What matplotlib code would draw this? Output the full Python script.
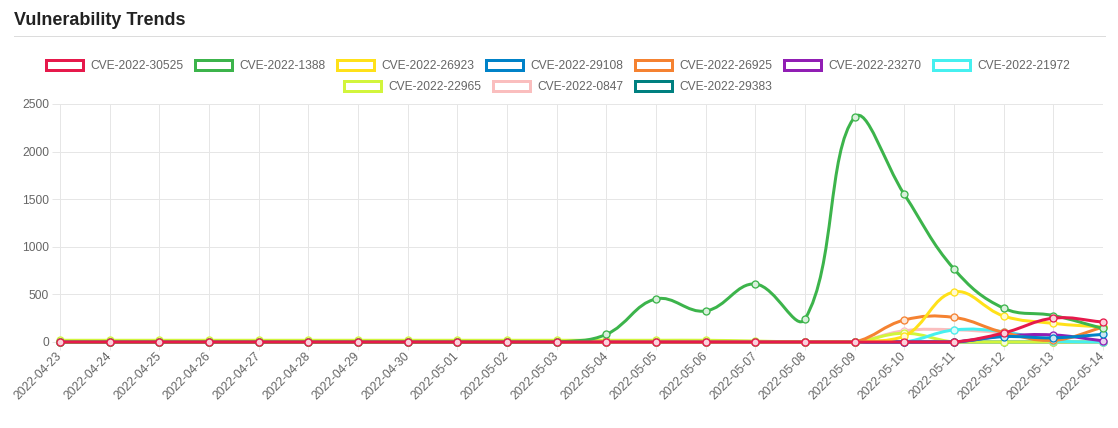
import numpy as np
import matplotlib
matplotlib.use("Agg")
import matplotlib.pyplot as plt
from matplotlib.path import Path
from matplotlib.patches import PathPatch, Rectangle
from matplotlib.lines import Line2D

# ---------------- data ----------------
dates = ['2022-04-23', '2022-04-24', '2022-04-25', '2022-04-26', '2022-04-27',
         '2022-04-28', '2022-04-29', '2022-04-30', '2022-05-01', '2022-05-02',
         '2022-05-03', '2022-05-04', '2022-05-05', '2022-05-06', '2022-05-07',
         '2022-05-08', '2022-05-09', '2022-05-10', '2022-05-11', '2022-05-12',
         '2022-05-13', '2022-05-14']

cve_2022_30525 = [0, 0, 0, 0, 0, 0, 0, 0, 0, 0, 0, 0, 0, 0, 0, 0, 0, 0, 0, 95, 250, 210]
cve_2022_1388 = [0, 0, 0, 0, 0, 0, 0, 0, 0, 0, 0, 80, 452, 326, 609, 242, 2363, 1550, 767, 355, 278, 142]
cve_2022_26923 = [0, 0, 0, 0, 0, 0, 0, 0, 0, 0, 0, 0, 0, 0, 0, 0, 0, 60, 525, 273, 196, 156]
cve_2022_29108 = [0, 0, 0, 0, 0, 0, 0, 0, 0, 0, 0, 0, 0, 0, 0, 0, 0, 0, 0, 56, 44, 80]
cve_2022_26925 = [0, 0, 0, 0, 0, 0, 0, 0, 0, 0, 0, 0, 0, 0, 0, 0, 0, 231, 258, 100, 18, 155]
cve_2022_23270 = [0, 0, 0, 0, 0, 0, 0, 0, 0, 0, 0, 0, 0, 0, 0, 0, 0, 0, 0, 62, 74, 12]
cve_2022_21972 = [0, 0, 0, 0, 0, 0, 0, 0, 0, 0, 0, 0, 0, 0, 0, 0, 0, 0, 126, 108, 8, 0]
cve_2022_22965 = [18, 18, 18, 18, 18, 18, 18, 18, 18, 18, 18, 18, 18, 18, 10, 0, 0, 92, 0, 0, 0, 0]
cve_2022_0847 = [0, 0, 0, 0, 0, 0, 0, 0, 0, 0, 0, 0, 0, 0, 0, 0, 0, 118, 128, 92, 5, 0]
cve_2022_29383 = [0, 0, 0, 0, 0, 0, 0, 0, 0, 0, 0, 0, 0, 0, 0, 0, 0, 0, 0, 0, 0, 0]

series_names = ['CVE-2022-30525', 'CVE-2022-1388', 'CVE-2022-26923', 'CVE-2022-29108',
                'CVE-2022-26925', 'CVE-2022-23270', 'CVE-2022-21972', 'CVE-2022-22965',
                'CVE-2022-0847', 'CVE-2022-29383']
series_values = [cve_2022_30525, cve_2022_1388, cve_2022_26923, cve_2022_29108,
                 cve_2022_26925, cve_2022_23270, cve_2022_21972, cve_2022_22965,
                 cve_2022_0847, cve_2022_29383]
series_colors = ['#e6194b', '#3cb44b', '#ffe119', '#0082c8', '#f58231',
                 '#911eb4', '#46f0f0', '#d2f53c', '#fabebe', '#008080']

y_ticks = [0, 500, 1000, 1500, 2000, 2500]
title_text = 'Vulnerability Trends'

# ---------------- layout ----------------
W, H = 1118, 428
FONT = 'Liberation Sans'
PX = 72.0 / 100.0  # points per pixel
GRID = '#e6e6e6'
TXT = '#666666'

fig = plt.figure(figsize=(W / 100, H / 100), dpi=100)
fig.patch.set_facecolor('white')

# overlay (pixel coordinates, y down)
ov = fig.add_axes([0, 0, 1, 1])
ov.set_xlim(0, W)
ov.set_ylim(H, 0)
ov.axis('off')
ov.patch.set_visible(False)

L, R, T, B = 60, 1103, 104, 342
ax = fig.add_axes([L / W, 1 - B / H, (R - L) / W, (B - T) / H])
ax.patch.set_visible(False)

n = len(dates)
xs = np.arange(n)
xmax = n - 1
ymax = y_ticks[-1]
ax.set_xlim(0, xmax)
ax.set_ylim(0, ymax)

for s in ax.spines.values():
    s.set_visible(False)
ax.set_xticks(xs)
ax.set_xticklabels(dates)
ax.set_yticks(y_ticks)
ax.set_yticklabels([str(v) for v in y_ticks])
ax.tick_params(axis='both', length=8 * PX, width=1 * PX, color=GRID,
               labelcolor=TXT, labelsize=12 * PX)
ax.tick_params(axis='y', pad=3 * PX)
ax.tick_params(axis='x', pad=4 * PX)
ax.grid(True, color=GRID, linewidth=1 * PX, alpha=1.0)
ax.set_axisbelow(True)
for lab in ax.get_yticklabels() + ax.get_xticklabels():
    lab.set_fontfamily(FONT)
plt.setp(ax.get_xticklabels(), rotation=45, ha='right', va='center',
         rotation_mode='anchor')

sx = (R - L) / xmax
sy = (B - T) / ymax


def chartjs_path(vals, t=0.4):
    px = xs * sx
    py = np.array(vals, dtype=float) * sy
    cpp, cpn = [], []
    for i in range(n):
        p = i - 1 if i > 0 else i
        q = i + 1 if i < n - 1 else i
        d01 = np.hypot(px[i] - px[p], py[i] - py[p])
        d12 = np.hypot(px[q] - px[i], py[q] - py[i])
        tot = d01 + d12
        s01 = d01 / tot if tot else 0.0
        s12 = d12 / tot if tot else 0.0
        fa, fb = t * s01, t * s12
        dx, dy = px[q] - px[p], py[q] - py[p]
        cpp.append((np.clip(px[i] - fa * dx, 0, xmax * sx), np.clip(py[i] - fa * dy, 0, ymax * sy)))
        cpn.append((np.clip(px[i] + fb * dx, 0, xmax * sx), np.clip(py[i] + fb * dy, 0, ymax * sy)))
    verts = [(px[0], py[0])]
    codes = [Path.MOVETO]
    for i in range(1, n):
        verts += [cpn[i - 1], cpp[i], (px[i], py[i])]
        codes += [Path.CURVE4] * 3
    verts = np.array(verts)
    verts[:, 0] /= sx
    verts[:, 1] /= sy
    return Path(verts, codes)


def lighten(c, a=0.25):
    rgb = np.array(matplotlib.colors.to_rgb(c))
    return tuple(rgb * a + (1 - a))


ns = len(series_names)
for i, (name, vals, col) in enumerate(zip(series_names, series_values, series_colors)):
    z = 10 + 2 * (ns - i)
    patch = PathPatch(chartjs_path(vals), facecolor='none', edgecolor=col,
                      linewidth=3 * PX, zorder=z, clip_on=False, capstyle='round',
                      joinstyle='round')
    ax.add_patch(patch)
    ax.plot(xs, vals, linestyle='none', marker='o', markersize=7 * PX,
            markerfacecolor=lighten(col, 0.2), markeredgecolor=col,
            markeredgewidth=1.3 * PX, zorder=z + 1, clip_on=False)

# ---------------- title ----------------
ov.text(14, 25, title_text, fontsize=18 * PX, fontweight='bold', color='#222222',
        fontfamily=FONT, ha='left', va='baseline')
ov.add_line(Line2D([14, 1105], [35.5, 35.5], color='#dcdcdc', linewidth=1 * PX))

# ---------------- legend ----------------
fig.canvas.draw()
renderer = fig.canvas.get_renderer()
lfs = 12.0
box_w, pad = 40, 10
items = []
for name, col in zip(series_names, series_colors):
    t = ov.text(0, 0, name, fontsize=lfs * PX, fontfamily=FONT)
    tw = t.get_window_extent(renderer).width
    t.remove()
    items.append((name, col, box_w + lfs / 2 + tw))

rows = [[]]
row_w = [0]
max_w = 1091
for it in items:
    if row_w[-1] + it[2] + pad >= max_w and rows[-1]:
        rows.append([])
        row_w.append(0)
    rows[-1].append(it)
    row_w[-1] += it[2] + pad

center = 562
row_y = [65, 86]
for r, (row, rw) in enumerate(zip(rows, row_w)):
    x = center - rw / 2
    y = row_y[r]
    for name, col, w in row:
        ov.add_patch(Rectangle((x + 1.5, y - 5), box_w - 3, 10, facecolor='white',
                               edgecolor=col, linewidth=3 * PX))
        ov.text(x + box_w + lfs / 2, y + 0.5, name, fontsize=lfs * PX, fontfamily=FONT,
                color=TXT, ha='left', va='center')
        x += w + pad

fig.savefig('out.png', dpi=100, facecolor='white')
